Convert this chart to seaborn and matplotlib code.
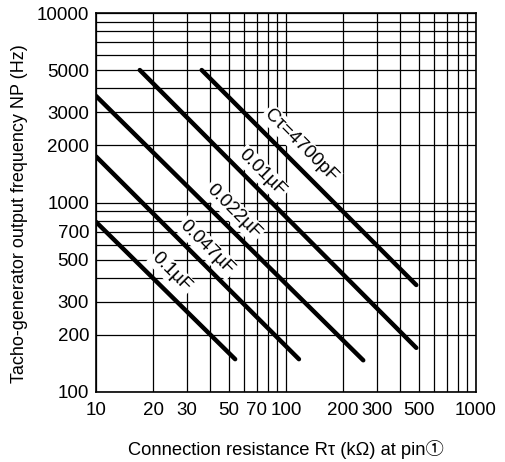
import numpy as np
import pandas as pd
import matplotlib
matplotlib.use("Agg")
import matplotlib.pyplot as plt
import seaborn as sns
from matplotlib.ticker import FixedLocator, FixedFormatter, NullFormatter

# Straight lines on log-log paper: start / end points
caps = ["Cτ=4700pF", "0.01µF", "0.022µF", "0.047µF", "0.1µF"]
r_start = [36, 17, 10, 10, 10]          # kOhm
f_start = [5000, 5000, 3650, 1750, 790]  # Hz
r_end = [485, 485, 255, 117, 54]
f_end = [367, 171, 147, 149, 149]

x_ticks = [10, 20, 30, 50, 70, 100, 200, 300, 500, 1000]
y_ticks = [100, 200, 300, 500, 700, 1000, 2000, 3000, 5000, 10000]

rows = []
for c, r0, f0, r1, f1 in zip(caps, r_start, f_start, r_end, f_end):
    rows.append({"cap": c, "R": r0, "f": f0})
    rows.append({"cap": c, "R": r1, "f": f1})
df = pd.DataFrame(rows)

sns.set_style("white")
plt.rcParams["font.family"] = ["Liberation Sans", "Noto Sans CJK JP", "DejaVu Sans"]
plt.rcParams["text.color"] = "black"
plt.rcParams["axes.labelcolor"] = "black"

fig = plt.figure(figsize=(5.05, 4.62), dpi=100)
ax = fig.add_axes([96 / 505, 70 / 462, 380 / 505, 379 / 462])
ax.set_xscale("log")
ax.set_yscale("log")

sns.lineplot(data=df, x="R", y="f", hue="cap", palette=["black"] * len(caps),
             estimator=None, sort=False, legend=False, lw=3.2,
             solid_capstyle="round", ax=ax, zorder=3)

ax.set_xlim(10, 1000)
ax.set_ylim(100, 10000)

# full log grid
minor_x = [m * 10 ** e for e in (1, 2) for m in range(2, 10)]
minor_y = [m * 10 ** e for e in (2, 3) for m in range(2, 10)]
ax.xaxis.set_minor_locator(FixedLocator(minor_x))
ax.yaxis.set_minor_locator(FixedLocator(minor_y))
ax.xaxis.set_minor_formatter(NullFormatter())
ax.yaxis.set_minor_formatter(NullFormatter())
ax.xaxis.set_major_locator(FixedLocator(x_ticks))
ax.xaxis.set_major_formatter(FixedFormatter([str(v) for v in x_ticks]))
ax.yaxis.set_major_locator(FixedLocator(y_ticks))
ax.yaxis.set_major_formatter(FixedFormatter([str(v) for v in y_ticks]))
ax.grid(True, which="both", color="black", lw=0.9)
ax.tick_params(which="both", length=0, labelsize=13.5, colors="black")
ax.tick_params(axis="x", pad=7)
ax.tick_params(axis="y", pad=5)
for s in ax.spines.values():
    s.set_color("black")
    s.set_linewidth(1.2)

# labels along the lines
label_r = [120, 75, 53, 38.5, 25]
label_dy = [24, 20, 21, 20, 24]
for c, r0, f0, r1, f1, rl, dy in zip(caps, r_start, f_start, r_end, f_end, label_r, label_dy):
    k = np.log(f1 / f0) / np.log(r1 / r0)
    fl = f0 * (rl / r0) ** k
    ax.annotate(c, xy=(rl, fl), xytext=(0, dy), textcoords="offset pixels",
                rotation=-45, rotation_mode="anchor", ha="center", va="center",
                fontsize=13.5, zorder=4,
                bbox=dict(boxstyle="square,pad=0.1", fc="white", ec="none"))

ax.set_xlabel("Connection resistance Rτ (kΩ) at pin①", fontsize=13.2, labelpad=15)
ax.set_ylabel("Tacho-generator output frequency NP (Hz)", fontsize=13)
ax.yaxis.set_label_coords(-0.18, 0.47)

fig.savefig("out.png", dpi=100, facecolor="white")
